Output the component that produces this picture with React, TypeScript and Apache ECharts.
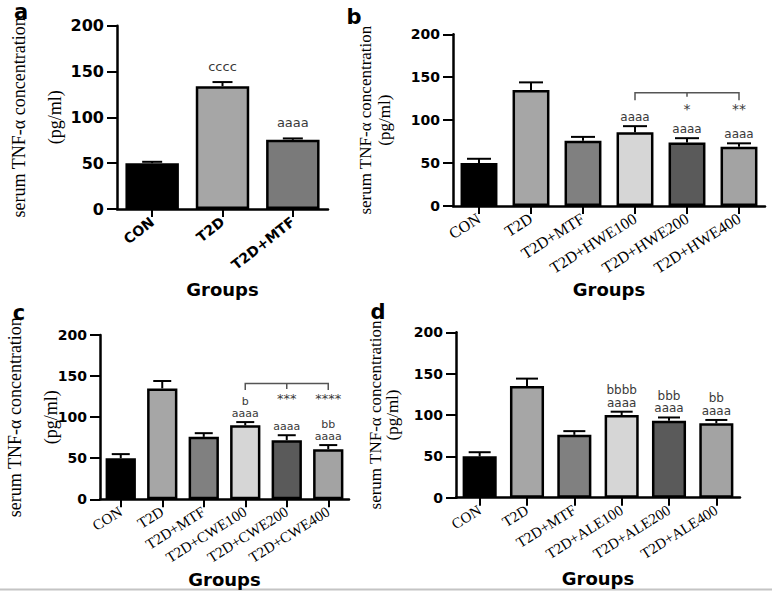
import React, { useEffect, useRef } from "react";
import * as echarts from "echarts";

// ---------- data ----------
const catsA = ["CON", "T2D", "T2D+MTF"];
const meanA = [50, 134, 75.5];
const errA = [1.5, 4.5, 1.5];
const annotA = ["", "cccc", "aaaa"];

const catsB = ["CON", "T2D", "T2D+MTF", "T2D+HWE100", "T2D+HWE200", "T2D+HWE400"];
const meanB = [50, 135, 76, 86, 74, 69];
const errB = [5, 9, 4.5, 7, 5, 4];
const annotB = ["", "", "", "aaaa", "aaaa", "aaaa"];
const starsB = ["", "", "", "", "*", "**"];

const catsC = ["CON", "T2D", "T2D+MTF", "T2D+CWE100", "T2D+CWE200", "T2D+CWE400"];
const meanC = [50, 135, 76, 90, 72, 61];
const errC = [5, 9, 4.5, 4, 6, 5];
const annotC = ["", "", "", "b\naaaa", "aaaa", "bb\naaaa"];
const starsC = ["", "", "", "", "***", "****"];

const catsD = ["CON", "T2D", "T2D+MTF", "T2D+ALE100", "T2D+ALE200", "T2D+ALE400"];
const meanD = [50, 135, 76, 100, 93, 90];
const errD = [5, 9, 4.5, 4, 4, 4];
const annotD = ["", "", "", "bbbb\naaaa", "bbb\naaaa", "bb\naaaa"];

const yMin = 0;
const yMax = 200;
const yStep = 50;

const yTitle = "serum TNF-α concentration\n(pg/ml)";
const xTitle = "Groups";

const colorsA = ["#000000", "#a6a6a6", "#7a7a7a"];
const colors6 = ["#000000", "#a6a6a6", "#808080", "#d6d6d6", "#5a5a5a", "#a3a3a3"];

// ---------- layout ----------
const panels: any[] = [
  {
    letter: "a", lx: 21, ly: 12, cats: catsA, mean: meanA, err: errA, annot: annotA, stars: null, colors: colorsA,
    grid: { left: 117, top: 25.7, width: 211, height: 183.3 }, barWidth: "76%", cap: 10,
    annotGap: 16, annotFont: 13, annotLH: 13,
    xLabel: { fontFamily: "DejaVu Sans", fontWeight: "bold", fontSize: 14, rotate: 38 },
    yLabelSize: 16, nameGap: 44, nameLH: 36, nameSize: 18, groupsGap: 71,
  },
  {
    letter: "b", lx: 354, ly: 17, cats: catsB, mean: meanB, err: errB, annot: annotB, stars: starsB, colors: colors6,
    grid: { left: 453, top: 34.3, width: 312, height: 171.7 }, barWidth: "71%", cap: 12,
    annotGap: 9, annotFont: 12, annotLH: 12,
    bracket: { from: 3, mid: 4, to: 5, level: 132, dropEnd: 7.5, dropMid: 4, starOff: 13, starSize: 14 },
    xLabel: { fontFamily: "Liberation Serif", fontSize: 16, rotate: 32 },
    yLabelSize: 14, nameGap: 59, nameLH: 19, nameSize: 17, groupsGap: 74,
  },
  {
    letter: "c", lx: 19, ly: 313, cats: catsC, mean: meanC, err: errC, annot: annotC, stars: starsC, colors: colors6,
    grid: { left: 100, top: 335, width: 249, height: 164.3 }, barWidth: "73%", cap: 9,
    annotGap: 8.5, annotFont: 11, annotLH: 12,
    bracket: { from: 3, mid: 4, to: 5, level: 141, dropEnd: 6.5, dropMid: 5.5, starOff: 12, starSize: 13 },
    xLabel: { fontFamily: "Liberation Serif", fontSize: 15, rotate: 32 },
    yLabelSize: 14, nameGap: 31, nameLH: 36, nameSize: 18, groupsGap: 71,
  },
  {
    letter: "d", lx: 378, ly: 312, cats: catsD, mean: meanD, err: errD, annot: annotD, stars: null, colors: colors6,
    grid: { left: 456, top: 332.3, width: 284, height: 165.4 }, barWidth: "72%", cap: 11,
    annotGap: 9, annotFont: 12, annotLH: 12.5,
    xLabel: { fontFamily: "Liberation Serif", fontSize: 15, rotate: 32 },
    yLabelSize: 14, nameGap: 55, nameLH: 17, nameSize: 17, groupsGap: 72,
  },
];

function buildOption() {
  const grid: any[] = [];
  const xAxis: any[] = [];
  const yAxis: any[] = [];
  const series: any[] = [];
  const graphic: any[] = [];

  panels.forEach((p, k) => {
    grid.push({ ...p.grid, containLabel: false, outerBoundsMode: "none" });
    xAxis.push({
      type: "category",
      gridIndex: k,
      data: p.cats,
      boundaryGap: true,
      axisLine: { show: true, lineStyle: { color: "#000", width: 2.5 } },
      axisTick: { show: true, alignWithLabel: true, length: 8, lineStyle: { color: "#000", width: 2 } },
      axisLabel: { interval: 0, color: "#000", margin: 11, ...p.xLabel },
      splitLine: { show: false },
      name: xTitle,
      nameLocation: "middle",
      nameGap: p.groupsGap,
      nameMoveOverlap: false,
      nameTextStyle: { fontFamily: "DejaVu Sans", fontWeight: "bold", fontSize: 18, color: "#000" },
    });
    yAxis.push({
      type: "value",
      gridIndex: k,
      min: yMin,
      max: yMax,
      interval: yStep,
      axisLine: { show: true, lineStyle: { color: "#000", width: 2.5 } },
      axisTick: { show: true, length: 10, lineStyle: { color: "#000", width: 2 } },
      axisLabel: { color: "#000", fontFamily: "DejaVu Sans", fontWeight: "bold", fontSize: p.yLabelSize, margin: 13 },
      splitLine: { show: false },
      name: yTitle,
      nameLocation: "middle",
      nameRotate: 90,
      nameGap: p.nameGap,
      nameMoveOverlap: false,
      nameTextStyle: { fontFamily: "Liberation Serif", fontSize: p.nameSize, lineHeight: p.nameLH, color: "#000" },
    });
    series.push({
      type: "bar",
      xAxisIndex: k,
      yAxisIndex: k,
      barWidth: p.barWidth,
      data: p.mean.map((v: number, i: number) => ({
        value: v,
        itemStyle: { color: p.colors[i], borderColor: "#000", borderWidth: 2.5 },
      })),
      z: 2,
    });
    series.push({
      type: "custom",
      xAxisIndex: k,
      yAxisIndex: k,
      clip: false,
      z: 3,
      encode: { x: 0, y: 1 },
      data: p.mean.map((v: number, i: number) => [i, v, p.err[i]]),
      renderItem: (params: any, api: any) => {
        const i = params.dataIndex;
        const x = api.value(0);
        const m = api.value(1);
        const e = api.value(2);
        const base = api.coord([x, m]);
        const top = api.coord([x, m + e]);
        const children: any[] = [
          { type: "line", shape: { x1: base[0], y1: base[1], x2: top[0], y2: top[1] }, style: { stroke: "#000", lineWidth: 2 } },
          { type: "line", shape: { x1: top[0] - p.cap, y1: top[1], x2: top[0] + p.cap, y2: top[1] }, style: { stroke: "#000", lineWidth: 2 } },
        ];
        const t = p.annot[i];
        if (t) {
          children.push({
            type: "text",
            x: top[0],
            y: top[1] - p.annotGap + p.annotLH / 2,
            style: {
              text: t,
              fill: "#3a3a3a",
              fontFamily: "DejaVu Sans",
              fontSize: p.annotFont,
              lineHeight: p.annotLH,
              align: "center",
              verticalAlign: "bottom",
            },
          });
        }
        return { type: "group", children };
      },
    });
    if (p.bracket) {
      const b = p.bracket;
      series.push({
        type: "custom",
        xAxisIndex: k,
        yAxisIndex: k,
        clip: false,
        z: 3,
        encode: { x: 0, y: 1 },
        data: [[b.from, b.level]],
        renderItem: (params: any, api: any) => {
          const y = api.coord([b.from, b.level])[1];
          const x1 = api.coord([b.from, b.level])[0];
          const xm = api.coord([b.mid, b.level])[0];
          const x2 = api.coord([b.to, b.level])[0];
          const children: any[] = [
            {
              type: "polyline",
              shape: { points: [[x1, y + b.dropEnd], [x1, y], [x2, y], [x2, y + b.dropEnd]] },
              style: { stroke: "#555", lineWidth: 1.5, fill: null },
            },
            { type: "line", shape: { x1: xm, y1: y, x2: xm, y2: y + b.dropMid }, style: { stroke: "#555", lineWidth: 1.5 } },
          ];
          p.stars.forEach((s: string, i: number) => {
            if (!s) return;
            const cx = api.coord([i, b.level])[0];
            children.push({
              type: "text",
              x: cx,
              y: y + b.starOff + 3,
              style: {
                text: s,
                fill: "#3a3a3a",
                fontFamily: "DejaVu Sans",
                fontSize: b.starSize,
                align: "center",
                verticalAlign: "middle",
              },
            });
          });
          return { type: "group", children };
        },
      });
    }
    graphic.push({
      type: "text",
      x: p.lx,
      y: p.ly,
      style: {
        text: p.letter,
        fill: "#000",
        fontFamily: "DejaVu Sans",
        fontWeight: "bold",
        fontSize: 21,
        align: "center",
        verticalAlign: "middle",
      },
    });
  });

  graphic.push({
    type: "line",
    shape: { x1: 0, y1: 589.5, x2: 772, y2: 589.5 },
    style: { stroke: "#c4c4c4", lineWidth: 2 },
  });

  return {
    animation: false,
    backgroundColor: "#ffffff",
    grid,
    xAxis,
    yAxis,
    series,
    graphic,
  };
}

export default function App() {
  const ref = useRef<HTMLDivElement>(null);
  useEffect(() => {
    if (!ref.current) return;
    const chart = echarts.init(ref.current, undefined, { renderer: "svg" });
    chart.setOption(buildOption() as any);
    return () => {
      chart.dispose();
    };
  }, []);
  return (
    <div
      ref={ref}
      style={{ position: "absolute", left: 0, top: 0, width: 772, height: 591, background: "#fff" }}
    />
  );
}
